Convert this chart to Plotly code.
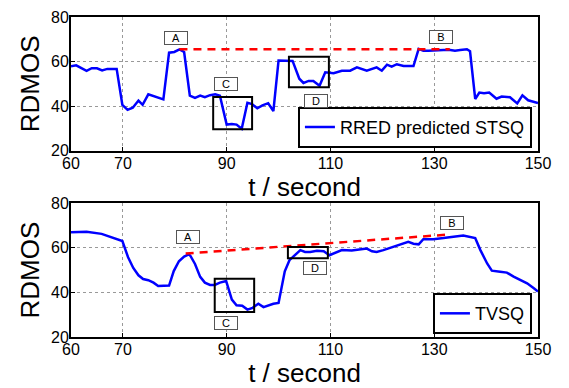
import plotly.graph_objects as go
from plotly.subplots import make_subplots

# ---- data ----
t_top = [60, 61, 63, 64, 65, 66, 67, 68.8, 69.9, 70.9, 71.9, 73, 73.8, 74.9, 77.8,
         78.9, 79.9, 80.9, 81.8, 82.9, 83.9, 84.9, 85.8, 86.8, 87.8, 88.7, 90, 91,
         91.9, 92.9, 94, 94.9, 95.9, 96.9, 98, 99, 100, 102.7, 104, 104.8, 105.8,
         106.7, 107.9, 109, 110.6, 112.2, 113.8, 115.1, 117, 118.9, 119.9, 120.9,
         121.8, 122.8, 124.1, 126, 127, 127.9, 128.9, 130.5, 131.8, 133.1, 134, 135,
         136.3, 136.9, 137.9, 138.7, 139.6, 140.6, 142, 143, 144.6, 146, 147, 148.1, 150]
rdmos_top = [57.9, 58.3, 55.8, 57, 57, 56, 56.7, 56.7, 40.5, 38.3, 39.3, 42.5, 40.6, 45.3, 43,
             64, 64.3, 65.5, 64.3, 44.7, 43.7, 44.7, 44, 44.9, 45.3, 44.7, 31.7, 32,
             31.7, 29.8, 41.5, 40.9, 39, 40.3, 41.3, 37.8, 60.5, 60.3, 52.3, 50.4, 51.3,
             51.3, 49.1, 55.2, 54.8, 55.9, 55.9, 57.4, 55.9, 57.4, 55.9, 58.6,
             57.7, 58.8, 58, 58, 65.7, 64.9, 64.9, 65.2, 65.2, 65.2, 64.9, 65.2,
             65.5, 64.6, 43.2, 46.1, 45.8, 46.1, 43.3, 44.3, 44, 41.2, 44.8, 42.6, 41.4]

t_bot = [60, 63, 65.9, 68.2, 69.9, 71, 72, 73, 73.9, 74.9, 75.9, 76.8, 77.8, 78.9, 79.8,
         80.8, 81.8, 82.7, 83, 83.9, 84.9, 85.8, 86.8, 87.7, 88.7, 89.9, 91, 91.9, 93,
         94, 95, 96.1, 97.1, 99, 100, 101.2, 102.1, 103.2, 104.2, 105.1, 106.1, 107.4,
         108.7, 109.8, 110.9, 112.2, 114.1, 115.7, 117, 118, 118.9, 120.2, 121.5, 123.1,
         125, 126, 127, 127.9, 129.8, 131.8, 133.7, 135.6, 137.9, 138.9, 140.2, 141.1,
         142.7, 144, 145.3, 146.6, 147.9, 149.2, 150]
rdmos_bot = [67, 67.2, 66.3, 64.5, 63.1, 55.8, 51, 47.7, 46, 45.5, 44.4, 42.9, 42.9, 43.1, 49.6,
             54, 56.1, 57.1, 56.5, 52.8, 47, 44.4, 43.4, 43.4, 44.4, 45.1, 36.8, 34.2, 34,
             32.3, 33.1, 34.9, 33.4, 34.9, 35.3, 49.5, 54.5, 56.7, 59, 58.2, 58.2, 58.7,
             58.5, 56.7, 57.9, 59, 58.8, 59.3, 59.7, 58.5, 58.2, 59, 60, 60.9,
             62.7, 61.9, 61.6, 63.9, 63.9, 64.4, 65, 65.6, 64.4, 59, 53, 49.8,
             49.3, 48.9, 47.1, 45.6, 44.1, 41.9, 40.4]

trend_top_t = [80.9, 133]
trend_top_y = [65.5, 65.5]
trend_bot_t = [82.1, 132.4]
trend_bot_y = [57.5, 65.9]

x_ticks = [60, 70, 90, 110, 130, 150]
y_ticks = [20, 40, 60, 80]

labels = ["A", "B", "C", "D"]
top_label_t = [80.2, 131.3, 89.9, 107.2]
top_label_y = [70.8, 71.2, 49.8, 42.3]
bot_label_t = [82.5, 133.4, 89.9, 107.0]
bot_label_y = [64.8, 71.1, 26.4, 51.0]

# rectangles: (t0, t1, y0, y1)
top_rects = [(87.4, 94.9, 29.6, 44.1), (102.0, 109.7, 48.5, 62.2)]
bot_rects = [(87.7, 95.3, 31.2, 46.1), (101.8, 109.5, 55.4, 60.4)]

FONT = "Liberation Sans, Arial, sans-serif"

fig = make_subplots(rows=2, cols=1, vertical_spacing=0.1646)

fig.add_trace(go.Scatter(x=t_top, y=rdmos_top, mode="lines",
                         line=dict(color="#0000FF", width=2.5),
                         name="RRED predicted STSQ", legend="legend"), row=1, col=1)
fig.add_trace(go.Scatter(x=trend_top_t, y=trend_top_y, mode="lines",
                         line=dict(color="#FF0000", width=2.5, dash="8px,6px"),
                         showlegend=False), row=1, col=1)
fig.add_trace(go.Scatter(x=t_bot, y=rdmos_bot, mode="lines",
                         line=dict(color="#0000FF", width=2.5),
                         name="TVSQ", legend="legend2"), row=2, col=1)
fig.add_trace(go.Scatter(x=trend_bot_t, y=trend_bot_y, mode="lines",
                         line=dict(color="#FF0000", width=2.5, dash="8px,6px"),
                         showlegend=False), row=2, col=1)

for r, (lt, ly, rects) in enumerate([(top_label_t, top_label_y, top_rects),
                                      (bot_label_t, bot_label_y, bot_rects)], start=1):
    xref = "x" if r == 1 else "x2"
    yref = "y" if r == 1 else "y2"
    for lab, tx, ty in zip(labels, lt, ly):
        fig.add_annotation(x=tx, y=ty, xref=xref, yref=yref, text=lab, showarrow=False,
                           font=dict(family=FONT, size=11, color="black"),
                           bgcolor="white", bordercolor="#555555", borderwidth=1,
                           borderpad=1, width=20, height=10)
    for (x0, x1, y0, y1) in rects:
        fig.add_shape(type="rect", x0=x0, x1=x1, y0=y0, y1=y1, xref=xref, yref=yref,
                      line=dict(color="black", width=2))

axis_common = dict(showline=True, mirror=True, linecolor="black", linewidth=2,
                   ticks="inside", ticklen=4, tickcolor="black",
                   showgrid=True, gridcolor="#999999", griddash="dot", gridwidth=1,
                   zeroline=False, tickfont=dict(family=FONT, size=16, color="black"))

for r in (1, 2):
    fig.update_xaxes(range=[60, 150], tickvals=x_ticks, row=r, col=1,
                     ticklabelstandoff=-3,
                     title=dict(text="t / second", font=dict(family=FONT, size=26, color="black"),
                                standoff=0),
                     **axis_common)
    fig.update_yaxes(range=[20, 80], tickvals=y_ticks, row=r, col=1,
                     ticklabelstandoff=-3,
                     title=dict(text="RDMOS", font=dict(family=FONT, size=26, color="black"),
                                standoff=4),
                     **axis_common)

fig.update_layout(
    width=569, height=388,
    margin=dict(l=71, r=31, t=9, b=51),
    plot_bgcolor="white", paper_bgcolor="white",
    font=dict(family=FONT, color="black"),
    legend=dict(x=0.987, y=0.5915, xanchor="right", yanchor="bottom",
                bordercolor="black", borderwidth=2, bgcolor="white",
                font=dict(family=FONT, size=18, color="black"),
                itemwidth=30, tracegroupgap=0),
    legend2=dict(x=0.987, y=0.009, xanchor="right", yanchor="bottom",
                 bordercolor="black", borderwidth=2, bgcolor="white",
                 font=dict(family=FONT, size=18, color="black"),
                 itemwidth=30),
)

fig.write_html("out.html")
